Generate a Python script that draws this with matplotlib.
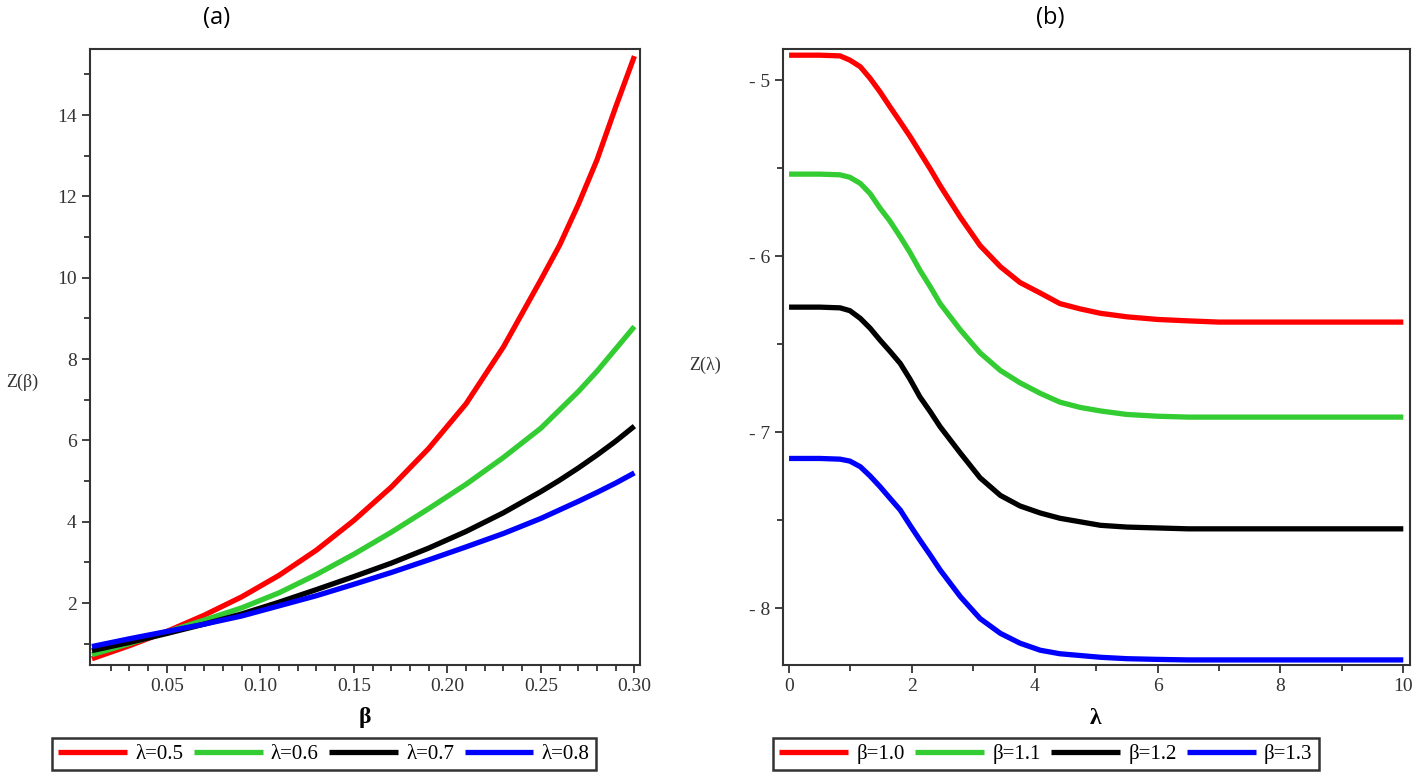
import matplotlib
matplotlib.use('Agg')
import numpy as np
import matplotlib.pyplot as plt
from matplotlib.ticker import FixedLocator, FormatStrFormatter

# Daten
# (a) Z(beta) fuer verschiedene lambda
beta_a = [0.01, 0.03, 0.05, 0.07, 0.09, 0.11, 0.13, 0.15, 0.17, 0.19, 0.21, 0.23, 0.25, 0.26, 0.27,
          0.28, 0.29, 0.30]
z_lam05 = [0.63, 0.95, 1.30, 1.70, 2.15, 2.68, 3.30, 4.03, 4.85, 5.80, 6.90, 8.30, 9.95, 10.8, 11.8,
           12.9, 14.2, 15.45]
z_lam06 = [0.73, 1.00, 1.29, 1.58, 1.88, 2.25, 2.70, 3.20, 3.74, 4.32, 4.92, 5.58, 6.30, 6.75, 7.20,
           7.70, 8.25, 8.80]
z_lam07 = [0.83, 1.03, 1.25, 1.48, 1.73, 2.02, 2.33, 2.65, 2.98, 3.35, 3.76, 4.22, 4.74, 5.02, 5.32,
           5.64, 5.98, 6.35]
z_lam08 = [0.93, 1.12, 1.30, 1.48, 1.68, 1.93, 2.18, 2.46, 2.75, 3.06, 3.38, 3.71, 4.08, 4.29, 4.50,
           4.72, 4.95, 5.20]
labels_a = ['λ=0.5', 'λ=0.6', 'λ=0.7', 'λ=0.8']

# (b) Z(lambda) fuer verschiedene beta
lam_b = [0, 0.5, 0.83, 0.99, 1.16, 1.32, 1.48, 1.64, 1.81, 1.97, 2.13, 2.30, 2.46, 2.79, 3.11, 3.44,
         3.76, 4.09, 4.41, 4.74, 5.07, 5.5, 6.0, 6.5, 7.0, 8.0, 9.0, 10.0]
z_b10 = [-4.858, -4.858, -4.862, -4.886, -4.924, -4.99, -5.066, -5.15, -5.237, -5.32, -5.41, -5.505,
         -5.60, -5.78, -5.94, -6.06, -6.15, -6.21, -6.27, -6.30, -6.325, -6.345, -6.36, -6.368,
         -6.375, -6.375, -6.375, -6.375]
z_b11 = [-5.534, -5.534, -5.538, -5.552, -5.587, -5.645, -5.727, -5.80, -5.89, -5.98, -6.08, -6.175,
         -6.27, -6.42, -6.55, -6.65, -6.72, -6.78, -6.83, -6.86, -6.88, -6.90, -6.91, -6.915,
         -6.915, -6.915, -6.915, -6.915]
z_b12 = [-6.29, -6.29, -6.294, -6.31, -6.354, -6.41, -6.477, -6.54, -6.61, -6.70, -6.80, -6.885,
         -6.97, -7.12, -7.26, -7.36, -7.42, -7.46, -7.49, -7.51, -7.53, -7.54, -7.545, -7.55,
         -7.55, -7.55, -7.55, -7.55]
z_b13 = [-7.15, -7.15, -7.154, -7.165, -7.197, -7.25, -7.31, -7.375, -7.443, -7.53, -7.614, -7.70,
         -7.784, -7.936, -8.06, -8.144, -8.20, -8.24, -8.26, -8.27, -8.28, -8.288, -8.292, -8.295,
         -8.295, -8.295, -8.295, -8.295]
labels_b = ['β=1.0', 'β=1.1', 'β=1.2', 'β=1.3']

colors = ['#ff0000', '#33cc33', '#000000', '#0000ff']
serif = 'Liberation Serif'

fig = plt.figure(figsize=(14.16, 7.81), dpi=100)
ax_a = fig.add_axes([0.0636, 0.1485, 0.3884, 0.7885])
ax_b = fig.add_axes([0.553, 0.1485, 0.4428, 0.7885])


def style_axes(ax):
    for sp in ax.spines.values():
        sp.set_linewidth(1.5)
        sp.set_color('#333333')
    ax.tick_params(which='major', direction='out', length=6, width=1.3, labelsize=14, colors='#333333')
    ax.tick_params(which='minor', direction='out', length=4, width=1.3, colors='#333333')
    for lbl in ax.get_xticklabels() + ax.get_yticklabels():
        lbl.set_fontfamily(serif)


# Panel (a)
lines_a = []
for z, c, lab in zip([z_lam05, z_lam06, z_lam07, z_lam08], colors, labels_a):
    ln, = ax_a.plot(beta_a, z, color=c, lw=3.8, label=lab, solid_capstyle='butt', solid_joinstyle='round')
    lines_a.append(ln)
ax_a.set_xlim(0.009, 0.303)
ax_a.set_ylim(0.475, 15.62)
ax_a.set_xticks([0.05, 0.10, 0.15, 0.20, 0.25, 0.30])
ax_a.xaxis.set_major_formatter(FormatStrFormatter('%.2f'))
ax_a.xaxis.set_minor_locator(FixedLocator([0.02, 0.03, 0.04, 0.06, 0.07, 0.08, 0.09, 0.11, 0.12, 0.13, 0.14,
                                           0.16, 0.17, 0.18, 0.19, 0.21, 0.22, 0.23, 0.24, 0.26, 0.27,
                                           0.28, 0.29]))
ax_a.set_yticks([2, 4, 6, 8, 10, 12, 14])
ax_a.yaxis.set_minor_locator(FixedLocator([1, 3, 5, 7, 9, 11, 13, 15]))
style_axes(ax_a)

# Panel (b)
lines_b = []
for z, c, lab in zip([z_b10, z_b11, z_b12, z_b13], colors, labels_b):
    ln, = ax_b.plot(lam_b, z, color=c, lw=3.8, label=lab, solid_capstyle='butt', solid_joinstyle='round')
    lines_b.append(ln)
ax_b.set_xlim(-0.098, 10.11)
ax_b.set_ylim(-8.324, -4.824)
ax_b.set_xticks([0, 2, 4, 6, 8, 10])
ax_b.xaxis.set_minor_locator(FixedLocator([1, 3, 5, 7, 9]))
ax_b.set_yticks([-5, -6, -7, -8])
ax_b.set_yticklabels(['- 5', '- 6', '- 7', '- 8'])
ax_b.yaxis.set_minor_locator(FixedLocator([-5.5, -6.5, -7.5]))
style_axes(ax_b)

# Achsenbeschriftungen
fig.text(22 / 1416, 1 - 382 / 781, 'Z(β)', fontsize=13, family=serif, ha='center', va='center', color='#333333')
fig.text(705 / 1416, 1 - 365 / 781, 'Z(λ)', fontsize=13, family=serif, ha='center', va='center', color='#333333')
fig.text(365 / 1416, 1 - 718 / 781, 'β', fontsize=17, family=serif, weight='bold', ha='center', va='center')
fig.text(1096 / 1416, 1 - 718 / 781, 'λ', fontsize=17, family=serif, weight='bold', ha='center', va='center')

# Titel (a) und (b)
fig.text(217 / 1416, 1 - 18 / 781, '(a)', fontsize=17, family='Open Sans', ha='center', va='center')
fig.text(1050 / 1416, 1 - 18 / 781, '(b)', fontsize=17, family='Open Sans', ha='center', va='center')

# Legenden unten
for handles, cx in [(lines_a, 324 / 1416), (lines_b, 1046 / 1416)]:
    leg = fig.legend(handles=handles, loc='center', bbox_to_anchor=(cx, 1 - 754 / 781), ncol=4,
                     frameon=True, fancybox=False, edgecolor='#333333', framealpha=1,
                     prop={'family': serif, 'size': 15}, handlelength=3.3, handletextpad=0.4,
                     columnspacing=0.5, borderpad=0.3)
    leg.get_frame().set_linewidth(1.8)

plt.savefig('out.png', dpi=100)
